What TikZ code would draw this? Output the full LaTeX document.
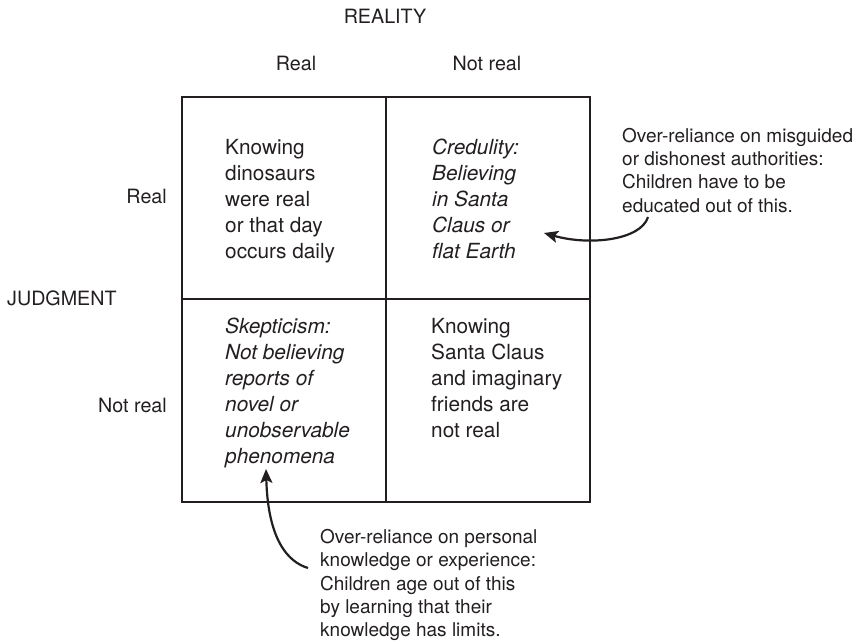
\documentclass[tikz,border=0pt]{standalone}
\usepackage{fontspec}
\setmainfont{TeX Gyre Heros}
\usetikzlibrary{positioning, arrows.meta}
\definecolor{ink}{HTML}{231F20}

\begin{document}
\begin{tikzpicture}[x=1pt, y=-1pt,
      cell/.style={anchor=north west, align=left, inner sep=0pt,
                   font=\fontsize{20.8}{26}\selectfont, text=ink},
      note/.style={anchor=north west, align=left, inner sep=0pt,
                   font=\fontsize{19}{23.3}\selectfont, text=ink},
      axislbl/.style={inner sep=0pt, font=\fontsize{19.7}{24}\selectfont, text=ink},
      grid/.style={draw=ink, line width=2.4pt},
      curvearr/.style={-{Stealth[length=14pt, width=12pt, inset=3pt]}, line width=2.2pt, draw=ink}]
    \useasboundingbox (0,0) rectangle (858,644);

    % the 2x2 table
    \draw[grid] (182,97) rectangle (590,502);
    \draw[grid] (386,97) -- (386,502);
    \draw[grid] (182,299) -- (590,299);

    % axis labels
    \node[axislbl, anchor=base] (reality) at (385,24) {REALITY};
    \node[axislbl, anchor=base] (colreal) at (296,71) {Real};
    \node[axislbl, anchor=base] (colnot) at (487,71) {Not real};
    \node[axislbl, anchor=base west] (judgment) at (7,305) {JUDGMENT};
    \node[axislbl, anchor=base east] (rowreal) at (167,204) {Real};
    \node[axislbl, anchor=base east] (rownot) at (167,412) {Not real};

    % cells
    \node[cell] (tl) at (225,139) {Knowing\\ dinosaurs\\ were real\\ or that day\\ occurs daily};
    \node[cell, font=\fontsize{20.8}{26}\selectfont\itshape] (tr) at (432,139)
      {Credulity:\\ Believing\\ in Santa\\ Claus or\\ flat Earth};
    \node[cell, font=\fontsize{20.8}{26}\selectfont\itshape] (bl) at (225,318)
      {Skepticism:\\ Not believing\\ reports of\\ novel or\\ unobservable\\ phenomena};
    \node[cell] (br) at (431,318) {Knowing\\ Santa Claus\\ and imaginary\\ friends are\\ not real};

    % notes
    \node[note] (authority) at (622,128)
      {Over-reliance on misguided\\ or dishonest authorities:\\ Children have to be\\ educated out of this.};
    \node[note] (personal) at (320,529)
      {Over-reliance on personal\\ knowledge or experience:\\ Children age out of this\\ by learning that their\\ knowledge has limits.};

    \coordinate (authtail) at (648,217);
    \coordinate (credtip) at (544,233);
    \coordinate (perstail) at (308,568);
    \coordinate (skeptip) at (266,469);

    \draw[curvearr] (authtail) .. controls (641,240) and (590,246) .. (credtip);
    \draw[curvearr] (perstail) .. controls (288,562) and (268,540) .. (skeptip);
  \end{tikzpicture}
\end{document}
